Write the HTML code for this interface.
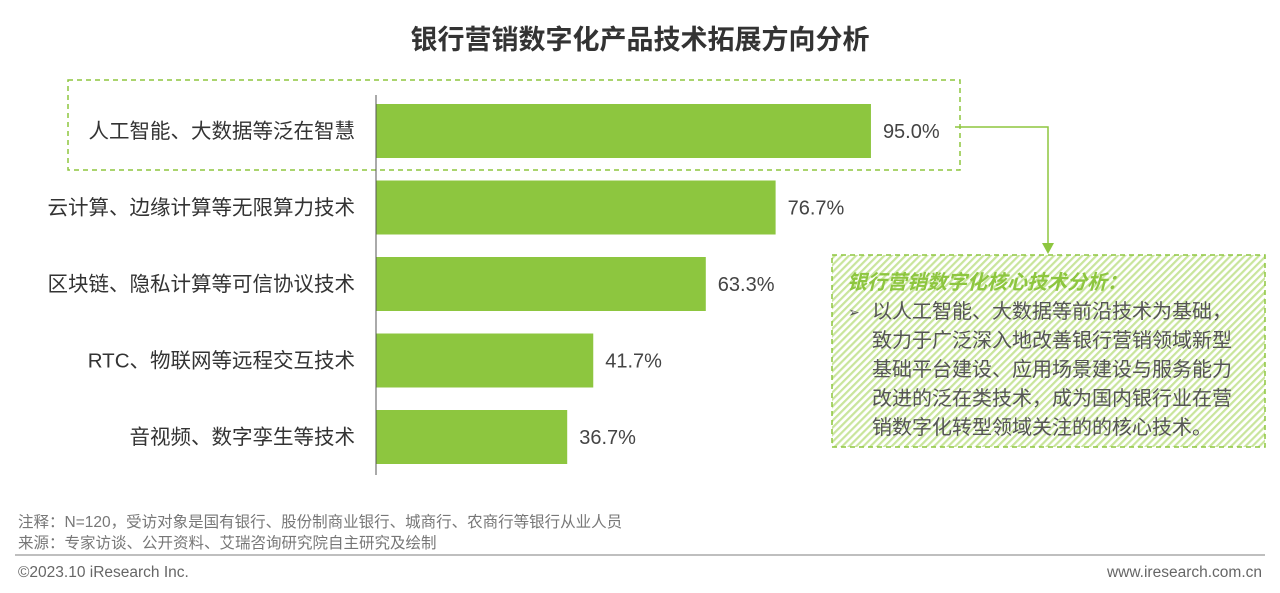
<!DOCTYPE html>
<html><head><meta charset="utf-8">
<style>
body{margin:0;width:1280px;height:588px;background:#fff;overflow:hidden;font-family:"Liberation Sans","Noto Sans CJK SC",sans-serif;}
</style></head>
<body>
<svg width="1280" height="588" xmlns="http://www.w3.org/2000/svg">
<defs>
<pattern id="hatch" width="5" height="5" patternUnits="userSpaceOnUse" patternTransform="rotate(45)">
<rect width="5" height="5" fill="#fff"/>
<rect width="2.2" height="5" fill="#c9e59c"/>
</pattern>
</defs>
<text x="640" y="49" text-anchor="middle" font-size="27" font-weight="bold" fill="#333">银行营销数字化产品技术拓展方向分析</text>
<rect x="68" y="80" width="892" height="90" fill="none" stroke="#8dc63f" stroke-width="1.5" stroke-dasharray="5,4"/>
<g id="bars"></g>
<line x1="376" y1="95" x2="376" y2="475" stroke="#555" stroke-width="1"/>
<polyline points="955,127 1048,127 1048,244" fill="none" stroke="#8dc63f" stroke-width="1.5"/>
<polygon points="1042,243 1054,243 1048,254" fill="#8dc63f"/>
<g>
<rect x="832" y="255" width="433" height="192" fill="url(#hatch)" stroke="#8dc63f" stroke-width="1.5" stroke-dasharray="5,4"/>
<text x="847" y="289" font-size="20" font-weight="bold" font-style="italic" fill="#8dc63f">银行营销数字化核心技术分析：</text>
<text x="848" y="317" font-size="14" fill="#555">➢</text>
<g font-size="20" fill="#555">
<text x="872" y="318">以人工智能、大数据等前沿技术为基础，</text>
<text x="872" y="347">致力于广泛深入地改善银行营销领域新型</text>
<text x="872" y="376">基础平台建设、应用场景建设与服务能力</text>
<text x="872" y="405">改进的泛在类技术，成为国内银行业在营</text>
<text x="872" y="434">销数字化转型领域关注的的核心技术。</text>
</g>
</g>
<text x="18" y="527" font-size="15.5" fill="#777">注释：N=120，受访对象是国有银行、股份制商业银行、城商行、农商行等银行从业人员</text>
<text x="18" y="548" font-size="15.5" fill="#777">来源：专家访谈、公开资料、艾瑞咨询研究院自主研究及绘制</text>
<line x1="15" y1="555" x2="1265" y2="555" stroke="#aaa" stroke-width="1.5"/>
<text x="18" y="577" font-size="15.5" fill="#666">©2023.10 iResearch Inc.</text>
<text x="1262" y="577" font-size="15.5" fill="#666" text-anchor="end">www.iresearch.com.cn</text>
</svg>
<script>
const categories=["人工智能、大数据等泛在智慧","云计算、边缘计算等无限算力技术","区块链、隐私计算等可信协议技术","RTC、物联网等远程交互技术","音视频、数字孪生等技术"];
const values=[95.0,76.7,63.3,41.7,36.7];
const valueLabels=["95.0%","76.7%","63.3%","41.7%","36.7%"];
const x0=376, scale=5.21, top0=104, step=76.5, bh=54;
function xs(v){return x0+v*scale;}
function ys(i){return top0+i*step;}
const g=document.getElementById('bars');
const NS="http://www.w3.org/2000/svg";
values.forEach((v,i)=>{
  const r=document.createElementNS(NS,'rect');
  r.setAttribute('x',x0);r.setAttribute('y',ys(i));
  r.setAttribute('width',xs(v)-x0);r.setAttribute('height',bh);
  r.setAttribute('fill','#8dc63f');
  
  
  g.appendChild(r);
  const t=document.createElementNS(NS,'text');
  t.setAttribute('x',xs(v)+12);t.setAttribute('y',ys(i)+bh/2+7);
  t.setAttribute('font-size','20');t.setAttribute('fill','#444');
  t.textContent=valueLabels[i];
  
  
  g.appendChild(t);
  const c=document.createElementNS(NS,'text');
  c.setAttribute('x',355);c.setAttribute('y',ys(i)+bh/2+7);
  c.setAttribute('font-size','20.5');c.setAttribute('fill','#333');
  c.setAttribute('text-anchor','end');
  c.textContent=categories[i];
  
  
  g.appendChild(c);
});
</script>
</body></html>
